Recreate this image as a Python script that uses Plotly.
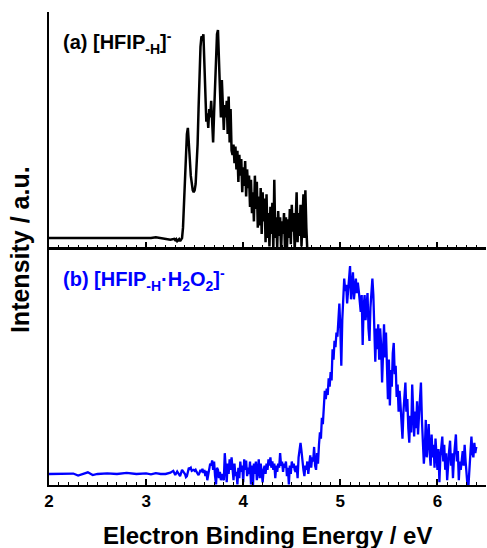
import numpy as np
import plotly.graph_objects as go

# ---------------- data ----------------
# (a) [HFIP-H]-  : sparse baseline part
energy_a_base = [2.00, 2.10, 2.20, 2.30, 2.40, 2.50, 2.60, 2.70, 2.80, 2.90, 3.00, 3.05,
                 3.10, 3.15, 3.20, 3.25, 3.29]
intensity_a_base = [0.0, 0.0, 0.0, 0.002, 0.0, 0.0, 0.002, 0.0, 0.0, 0.0, 0.003, 0.0,
                    0.004, 0.0, -0.004, -0.008, -0.004]
# dense part, energy grid 3.30 ... 4.66 eV in 0.01 eV steps
energy_a_start, energy_a_step = 3.30, 0.01
intensity_a = [
    -0.010, -0.005, -0.015, -0.010, -0.005, -0.015, -0.010, 0.000, 0.050, 0.180,   # 3.30-3.39
    0.320, 0.420, 0.500, 0.530, 0.470, 0.380, 0.300, 0.250, 0.230, 0.220,          # 3.40-3.49
    0.230, 0.260, 0.330, 0.450, 0.620, 0.780, 0.920, 0.970, 0.960, 0.980,          # 3.50-3.59
    0.800, 0.640, 0.560, 0.600, 0.530, 0.620, 0.580, 0.660, 0.500, 0.460,          # 3.60-3.69
    0.600, 0.720, 0.900, 0.980, 1.000, 0.850, 0.620, 0.580, 0.760, 0.640,          # 3.70-3.79
    0.520, 0.640, 0.580, 0.660, 0.500, 0.680, 0.460, 0.620, 0.420, 0.400,          # 3.80-3.89
    0.450, 0.360, 0.440, 0.330, 0.420, 0.270, 0.400, 0.300, 0.380, 0.220,          # 3.90-3.99
    0.340, 0.250, 0.370, 0.200, 0.330, 0.240, 0.300, 0.150, 0.280, 0.120,          # 4.00-4.09
    0.220, 0.080, 0.300, 0.140, 0.270, 0.050, 0.200, 0.060, 0.240, 0.020,          # 4.10-4.19
    0.220, 0.080, 0.190, -0.020, 0.210, 0.000, 0.120, -0.040, 0.150, 0.020,        # 4.20-4.29
    0.170, -0.060, 0.280, 0.000, 0.100, -0.050, 0.130, 0.010, 0.100, -0.060,       # 4.30-4.39
    0.080, 0.020, 0.120, -0.050, 0.100, -0.060, 0.090, 0.000, 0.140, -0.030,       # 4.40-4.49
    0.160, 0.030, 0.120, -0.060, 0.100, 0.220, -0.020, 0.120, 0.010, 0.160,        # 4.50-4.59
    -0.040, 0.140, 0.210, 0.000, 0.230, 0.050, -0.060,                             # 4.60-4.66
]

# (b) [HFIP-H·H2O2]- : sparse baseline part
energy_b_base = [2.00, 2.10, 2.20, 2.25, 2.30, 2.35, 2.40, 2.45, 2.50, 2.60, 2.70, 2.80,
                 2.90, 3.00, 3.05, 3.10, 3.15, 3.20, 3.25, 3.28, 3.30, 3.32, 3.35, 3.37, 3.39]
intensity_b_base = [0.0, 0.0, 0.0, 0.002, -0.008, 0.0, 0.008, -0.005, 0.0, 0.003, 0.0, 0.005,
                    0.0, 0.003, -0.002, 0.004, 0.0, 0.0, 0.006, 0.015, -0.005, 0.012, -0.010,
                    0.020, 0.005]
# dense part, energy grid 3.40 ... 6.40 eV in 0.01 eV steps
energy_b_start, energy_b_step = 3.40, 0.01
intensity_b = [
    0.000, -0.015, -0.010, 0.010, 0.030, 0.025, 0.030, 0.015, 0.020, 0.020,        # 3.40
    0.015, 0.020, 0.010, 0.005, -0.005, 0.005, 0.020, 0.010, 0.025, 0.005,         # 3.50
    0.020, -0.010, 0.015, -0.030, 0.000, 0.030, 0.050, 0.040, 0.065, 0.020,        # 3.60
    0.060, -0.010, -0.050, 0.030, 0.020, -0.020, 0.010, -0.030, 0.000, -0.020,     # 3.70
    -0.030, 0.100, 0.030, -0.040, 0.050, 0.000, 0.070, 0.020, 0.080, 0.040,        # 3.80
    -0.030, 0.050, -0.010, 0.010, -0.050, 0.030, -0.020, 0.060, 0.010, 0.040,      # 3.90
    -0.040, 0.070, 0.020, 0.065, -0.010, 0.030, 0.000, 0.060, -0.050, 0.040,       # 4.00
    -0.060, 0.050, 0.000, 0.060, -0.030, 0.020, 0.070, -0.020, 0.050, 0.010,       # 4.10
    -0.040, 0.020, 0.040, 0.000, 0.050, 0.020, 0.070, 0.040, 0.080, 0.030,         # 4.20
    0.060, 0.020, 0.050, -0.020, 0.040, 0.010, 0.050, 0.030, 0.100, 0.040,         # 4.30
    0.060, 0.010, 0.050, 0.030, 0.060, -0.010, 0.030, -0.050, 0.040, 0.000,        # 4.40
    0.060, 0.030, 0.050, 0.020, 0.010, 0.040, -0.020, 0.080, 0.120, 0.150,         # 4.50
    0.110, 0.050, 0.020, -0.010, 0.040, 0.020, 0.060, 0.000, 0.050, 0.090,         # 4.60
    0.030, 0.080, 0.060, 0.130, 0.040, 0.020, 0.100, 0.050, 0.140, 0.200,          # 4.70
    0.170, 0.270, 0.240, 0.340, 0.400, 0.360, 0.410, 0.380, 0.460, 0.420,          # 4.80
    0.490, 0.450, 0.600, 0.550, 0.640, 0.610, 0.680, 0.660, 0.720, 0.820,          # 4.90
    0.700, 0.520, 0.740, 0.860, 0.940, 0.880, 0.910, 0.820, 0.900, 0.960,          # 5.00
    1.000, 0.840, 0.920, 0.970, 0.840, 0.900, 0.940, 0.870, 0.920, 0.880,          # 5.10
    0.820, 0.780, 0.860, 0.620, 0.800, 0.860, 0.740, 0.840, 0.870, 0.700,          # 5.20
    0.640, 0.800, 0.880, 0.940, 0.860, 0.720, 0.540, 0.700, 0.600, 0.720,          # 5.30
    0.550, 0.700, 0.620, 0.440, 0.660, 0.720, 0.560, 0.680, 0.520, 0.360,          # 5.40
    0.550, 0.330, 0.500, 0.420, 0.580, 0.630, 0.480, 0.520, 0.370, 0.430,          # 5.50
    0.300, 0.400, 0.330, 0.260, 0.170, 0.300, 0.380, 0.440, 0.300, 0.360,          # 5.60
    0.220, 0.150, 0.280, 0.200, 0.430, 0.320, 0.180, 0.300, 0.220, 0.350,          # 5.70
    0.190, 0.280, 0.360, 0.440, 0.260, 0.140, 0.050, 0.120, 0.260, 0.080,          # 5.80
    0.180, 0.240, 0.100, 0.040, 0.190, 0.080, 0.140, 0.030, 0.170, 0.060,          # 5.90
    0.020, 0.120, -0.040, 0.080, 0.120, 0.180, 0.060, 0.140, 0.020, 0.100,         # 6.00
    -0.030, 0.070, 0.110, 0.160, 0.040, 0.100, -0.020, 0.080, 0.120, 0.190,        # 6.10
    0.060, 0.110, -0.030, 0.060, 0.020, 0.080, 0.110, 0.040, 0.140, 0.060,         # 6.20
    -0.040, -0.060, -0.050, 0.050, 0.120, 0.180, 0.100, 0.080, 0.150, 0.100,       # 6.30
    0.130,                                                                          # 6.40
]

x_tick_values = [2, 3, 4, 5, 6]
x_tick_labels = ["2", "3", "4", "5", "6"]
label_a = "<b>(a) [HFIP<sub>-H</sub>]<sup>-</sup></b>"
label_b = "<b>(b) [HFIP<sub>-H</sub>·H<sub>2</sub>O<sub>2</sub>]<sup>-</sup></b>"

# ---------------- build ----------------
ea_dense = np.round(energy_a_start + energy_a_step * np.arange(len(intensity_a)), 3)
eb_dense = np.round(energy_b_start + energy_b_step * np.arange(len(intensity_b)), 3)
xa = list(energy_a_base) + list(ea_dense)
ya = list(intensity_a_base) + list(intensity_a)
xb = list(energy_b_base) + list(eb_dense)
yb = list(intensity_b_base) + list(intensity_b)

FONT = "Liberation Sans, Arial, sans-serif"
fig = go.Figure()
fig.add_trace(go.Scatter(x=xa, y=ya, mode="lines", line=dict(color="black", width=2.5),
                         xaxis="x2", yaxis="y2", showlegend=False))
fig.add_trace(go.Scatter(x=xb, y=yb, mode="lines", line=dict(color="#0000FF", width=2.3),
                         xaxis="x", yaxis="y", showlegend=False))

common_x = dict(range=[2, 6.5], showgrid=False, zeroline=False, showline=True,
                linecolor="black", linewidth=1.5, ticks="inside", ticklen=6, tickwidth=1.5,
                tickcolor="black", tickvals=x_tick_values,
                minor=dict(ticks="inside", dtick=0.1, tick0=2, ticklen=3.5, tickwidth=1,
                           tickcolor="black", showgrid=False))

fig.update_layout(
    width=487, height=548,
    margin=dict(l=49, r=1, t=12, b=63),
    paper_bgcolor="white", plot_bgcolor="white",
    font=dict(family=FONT, color="black"),
    xaxis=dict(**common_x, anchor="y", mirror=True, ticktext=x_tick_labels,
               tickfont=dict(size=17, weight="bold", family=FONT)),
    xaxis2=dict(**common_x, anchor="y2", matches="x", showticklabels=False),
    yaxis=dict(domain=[0, 0.499], range=[-0.053, 1.082], showgrid=False, zeroline=False,
               showline=True, linecolor="black", linewidth=1.5, showticklabels=False, ticks=""),
    yaxis2=dict(domain=[0.501, 1], range=[-0.048, 1.087], showgrid=False, zeroline=False,
                showline=True, linecolor="black", linewidth=1.5, showticklabels=False, ticks=""),
    annotations=[
        dict(text=label_a, xref="paper", yref="paper", x=0.028, y=0.935, xanchor="left",
             yanchor="middle", showarrow=False, font=dict(size=20, color="black", family=FONT)),
        dict(text=label_b, xref="paper", yref="paper", x=0.028, y=0.435, xanchor="left",
             yanchor="middle", showarrow=False, font=dict(size=20, color="#0000FF", family=FONT)),
        dict(text="<b>Intensity / a.u.</b>", xref="paper", yref="paper", x=-0.066, y=0.497,
             xanchor="center", yanchor="middle", textangle=-90, showarrow=False,
             font=dict(size=25, color="black", family=FONT)),
        dict(text="<b>Electron Binding Energy / eV</b>", xref="paper", yref="paper",
             x=0.5, y=-0.106, xanchor="center", yanchor="middle", showarrow=False,
             font=dict(size=24, color="black", family=FONT)),
    ],
)

fig.write_html("out.html", config={"displayModeBar": False},
               post_script="document.body.style.margin='0';document.body.style.overflow='hidden';")
